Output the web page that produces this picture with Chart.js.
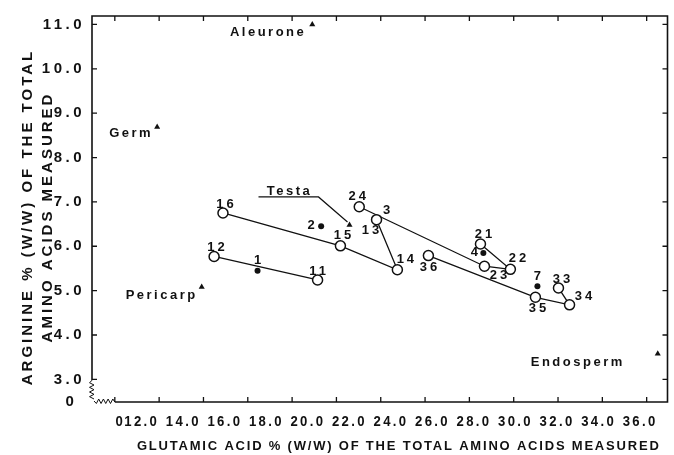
<!DOCTYPE html>
<html>
<head>
<meta charset="utf-8">
<script src="https://cdn.jsdelivr.net/npm/chart.js@4.4.0/dist/chart.umd.min.js"></script>
<style>
  body { margin: 0; background: #fff; }
</style>
</head>
<body>
<canvas id="chart" width="674" height="455"></canvas>
<script>
// fractions joined by lines (glutamic acid %, arginine %)
var idsA = ['12', '11'];
var gluA = [16.48, 21.15];
var argA = [5.77, 5.24];

var idsB = ['16', '15', '14', '13'];
var gluB = [16.88, 22.18, 24.75, 23.81];
var argB = [6.75, 6.01, 5.47, 6.60];

var idsC = ['24', '23', '22', '21'];
var gluC = [23.03, 28.68, 29.85, 28.50];
var argC = [6.89, 5.55, 5.48, 6.05];

var idsD = ['36', '35', '34', '33'];
var gluD = [26.15, 30.98, 32.52, 32.02];
var argD = [5.79, 4.85, 4.68, 5.06];

// single samples (solid dots)
var dotIds = ['1', '2', '3', '4', '7'];
var dotGlu = [18.44, 21.31, 23.81, 28.63, 31.07];
var dotArg = [5.45, 6.45, 6.60, 5.85, 5.10];

// dissected tissues (triangles)
var tissueNames = ['Aleurone', 'Germ', 'Testa', 'Pericarp', 'Endosperm'];
var tissueGlu = [20.91, 13.91, 22.59, 15.92, 36.5];
var tissueArg = [11.0, 8.69, 6.48, 5.08, 3.58];

var xTicks = [12, 14, 16, 18, 20, 22, 24, 26, 28, 30, 32, 34, 36];
var yTicks = [3, 4, 5, 6, 7, 8, 9, 10, 11];
var xMin = 10.97, xMax = 36.94;
var yMin = 2.49, yMax = 11.19;

var INK = '#111';
var FONT = '"Liberation Sans", Arial, sans-serif';

function pts(xs, ys) {
  return xs.map(function (x, i) { return { x: x, y: ys[i] }; });
}

function lineSet(ids, glu, arg) {
  return {
    ids: ids,
    data: pts(glu, arg),
    showLine: true,
    borderColor: INK,
    borderWidth: 1.3,
    pointRadius: 5,
    pointBorderWidth: 1.5,
    pointBackgroundColor: '#fff',
    pointBorderColor: INK
  };
}

// where each number sits relative to its marker (px)
var idOffsets = {
  '16': [2, -9], '12': [2, -9], '1': [0, -10], '11': [0, -9], '2': [-10, -1],
  '15': [2, -10], '14': [8, -10], '24': [-2, -10], '3': [10, -9], '13': [-6, 11],
  '36': [0, 12], '21': [3, -10], '4': [-9, -1], '23': [14, 9], '22': [7, -11],
  '7': [0, -10], '35': [2, 11], '33': [3, -9], '34': [14, -8]
};
// tissue names: right edge / middle of the text relative to the triangle
var nameOffsets = {
  'Aleurone': [-6, 8], 'Germ': [-4, 7], 'Pericarp': [-4, 8], 'Endosperm': [-33, 9]
};

// letter spacing and placement tweaks per scale part
function styleScale(scale, o) {
  if (scale._styled) return;
  var drawLabels = scale.drawLabels, drawTitle = scale.drawTitle;
  scale.drawLabels = function (area) {
    var ctx = this.ctx;
    ctx.save();
    ctx.letterSpacing = o.labelGap;
    if (o.labelSqueeze) {
      // hand-lettered labels sit a little tighter than the tick marks
      ctx.translate(o.labelSqueeze[1], 0);
      ctx.scale(o.labelSqueeze[0], 1);
    }
    drawLabels.call(this, area);
    ctx.restore();
  };
  scale.drawTitle = function () {
    this.ctx.save();
    this.ctx.letterSpacing = o.titleGap;
    this.ctx.translate(o.titleShift[0], o.titleShift[1]);
    drawTitle.call(this);
    this.ctx.restore();
  };
  scale._styled = true;
}

var framePlugin = {
  id: 'frame',
  beforeDraw: function (chart) {
    styleScale(chart.scales.x, { labelGap: '2.5px', titleGap: '1.8px', titleShift: [19, 0], labelSqueeze: [0.937, 34.2] });
    styleScale(chart.scales.y, { labelGap: '3.5px', titleGap: '3px', titleShift: [0, 8] });
  },
  afterDraw: function (chart) {
    var ctx = chart.ctx, a = chart.chartArea;
    var xs = chart.scales.x, ys = chart.scales.y;
    var x12 = xs.getPixelForValue(xTicks[0]);
    var y3 = ys.getPixelForValue(yTicks[0]);
    var i;
    ctx.save();
    ctx.strokeStyle = INK;
    ctx.lineWidth = 1.6;

    // frame with broken lower-left corner
    ctx.beginPath();
    ctx.moveTo(a.left, y3 + 1);
    ctx.lineTo(a.left, a.top);
    ctx.lineTo(a.right, a.top);
    ctx.lineTo(a.right, a.bottom);
    ctx.lineTo(x12, a.bottom);
    ctx.stroke();

    ctx.lineWidth = 1;
    ctx.beginPath();
    ctx.moveTo(a.left, y3 + 1);
    var steps = 8, yy = y3 + 1, dy = (a.bottom - 3 - yy) / steps;
    for (i = 1; i <= steps; i++) {
      ctx.lineTo(a.left + (i % 2 ? -2.5 : 2), yy + dy * i);
    }
    ctx.stroke();
    ctx.beginPath();
    ctx.moveTo(a.left + 2, a.bottom - 1);
    var xx = a.left + 2, dx = (x12 - 2 - xx) / 8;
    for (i = 1; i <= 8; i++) {
      ctx.lineTo(xx + dx * i, a.bottom - 1 + (i % 2 ? 2.5 : -2));
    }
    ctx.lineTo(x12, a.bottom);
    ctx.stroke();

    // inward ticks on all four sides
    ctx.lineWidth = 1.3;
    ctx.beginPath();
    xTicks.forEach(function (v) {
      var px = xs.getPixelForValue(v);
      ctx.moveTo(px, a.bottom); ctx.lineTo(px, a.bottom - 5);
      ctx.moveTo(px, a.top); ctx.lineTo(px, a.top + 5);
    });
    yTicks.forEach(function (v) {
      var py = ys.getPixelForValue(v);
      ctx.moveTo(a.left, py); ctx.lineTo(a.left + 5, py);
      ctx.moveTo(a.right, py); ctx.lineTo(a.right - 5, py);
    });
    ctx.stroke();

    // sample numbers
    ctx.fillStyle = INK;
    ctx.font = 'bold 13px ' + FONT;
    ctx.letterSpacing = '3px';
    ctx.textAlign = 'center';
    ctx.textBaseline = 'middle';
    chart.data.datasets.forEach(function (ds) {
      if (!ds.ids) return;
      ds.data.forEach(function (p, k) {
        var id = ds.ids[k], off = idOffsets[id] || [0, -10];
        ctx.fillText(id, xs.getPixelForValue(p.x) + off[0] + 1.5, ys.getPixelForValue(p.y) + off[1]);
      });
    });

    // tissue names
    ctx.letterSpacing = '2.5px';
    ctx.textAlign = 'right';
    tissueNames.forEach(function (name, k) {
      var px = xs.getPixelForValue(tissueGlu[k]);
      var py = ys.getPixelForValue(tissueArg[k]);
      if (name === 'Testa') {
        ctx.textAlign = 'center';
        ctx.fillText(name, px - 60, py - 34);
        ctx.textAlign = 'right';
        ctx.beginPath();
        ctx.lineWidth = 1.2;
        ctx.moveTo(px - 91, py - 28);
        ctx.lineTo(px - 31, py - 28);
        ctx.lineTo(px - 2, py - 3);
        ctx.stroke();
      } else {
        var off = nameOffsets[name];
        ctx.fillText(name, px + off[0], py + off[1]);
      }
    });
    ctx.restore();
  }
};

var datasets = [
  lineSet(idsA, gluA, argA),
  lineSet(idsB, gluB, argB),
  lineSet(idsC, gluC, argC),
  lineSet(idsD, gluD, argD),
  {
    ids: dotIds,
    data: pts(dotGlu, dotArg),
    pointRadius: 3,
    pointBackgroundColor: INK,
    pointBorderColor: INK,
    pointBorderWidth: 0
  },
  {
    data: pts(tissueGlu, tissueArg),
    pointStyle: 'triangle',
    pointRadius: 3.5,
    pointBackgroundColor: INK,
    pointBorderColor: INK,
    pointBorderWidth: 0
  }
];

new Chart(document.getElementById('chart').getContext('2d'), {
  type: 'scatter',
  data: { datasets: datasets },
  plugins: [framePlugin],
  options: {
    responsive: false,
    animation: false,
    events: [],
    layout: { padding: { top: 14, right: 2, left: 0, bottom: 0 } },
    plugins: { legend: { display: false }, tooltip: { enabled: false } },
    scales: {
      x: {
        type: 'linear',
        min: xMin,
        max: xMax,
        grid: { display: false, drawTicks: false },
        border: { display: false },
        afterBuildTicks: function (scale) {
          scale.ticks = [{ value: xMin }].concat(xTicks.map(function (v) { return { value: v }; }));
        },
        afterFit: function (scale) { scale.height = 53; },
        ticks: {
          autoSkip: false,
          maxRotation: 0,
          padding: 12,
          color: INK,
          font: { family: FONT, size: 14, weight: 'bold' },
          callback: function (v) { return v === xMin ? '0' : v.toFixed(1); }
        },
        title: {
          display: true,
          text: 'GLUTAMIC ACID % (W/W) OF THE TOTAL AMINO ACIDS MEASURED',
          color: INK,
          font: { family: FONT, size: 13, weight: 'bold' },
          padding: { top: 0, bottom: 1 }
        }
      },
      y: {
        type: 'linear',
        min: yMin,
        max: yMax,
        grid: { display: false, drawTicks: false },
        border: { display: false },
        afterBuildTicks: function (scale) {
          scale.ticks = [{ value: yMin }].concat(yTicks.map(function (v) { return { value: v }; }));
        },
        afterFit: function (scale) { scale.width = 92; },
        ticks: {
          autoSkip: false,
          padding: 7,
          color: INK,
          font: { family: FONT, size: 15, weight: 'bold' },
          callback: function (v) { return v === yMin ? '0 ' : v.toFixed(1); }
        },
        title: {
          display: true,
          text: ['ARGININE % (W/W) OF THE TOTAL', 'AMINO ACIDS MEASURED'],
          color: INK,
          font: { family: FONT, size: 15, weight: 'bold', lineHeight: '20px' },
          padding: { top: 18, bottom: 0 }
        }
      }
    }
  }
});
</script>
</body>
</html>
